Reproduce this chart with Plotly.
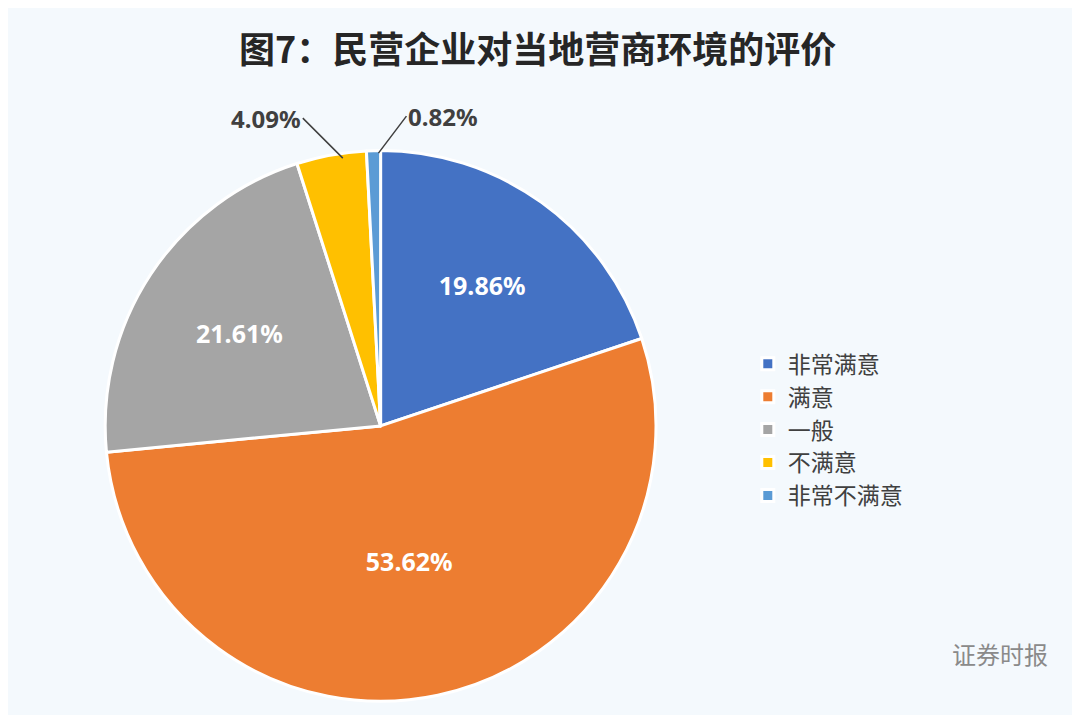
import plotly.graph_objects as go

labels = ["非常满意", "满意", "一般", "不满意", "非常不满意"]
values = [19.86, 53.62, 21.61, 4.09, 0.82]
colors = ["#4472c4", "#ed7d31", "#a5a5a5", "#ffc000", "#5b9bd5"]
text_labels = [f"{v:.2f}%" for v in values]
inside_text = [f"<b>{t}</b>" if v > 10 else "" for t, v in zip(text_labels, values)]

fig = go.Figure(go.Pie(
    labels=labels, values=values, sort=False, direction="clockwise", rotation=0,
    marker=dict(colors=colors, line=dict(color="white", width=3)),
    text=inside_text, textinfo="text", textposition="inside", insidetextorientation="horizontal",
    textfont=dict(color="white", size=25, family="Noto Sans"),
    domain=dict(x=[0.09, 0.60], y=[0.028, 0.803]),
    hoverinfo="label+percent",
))

fig.add_annotation(x=0.31, y=0.79, xref="paper", yref="paper", text="<b>" + text_labels[3] + "</b>",
                   showarrow=True, ax=-40, ay=-40, arrowhead=0, arrowwidth=1.5,
                   arrowcolor="#404040", xanchor="right", yanchor="middle",
                   font=dict(size=24, color="#404040", family="Noto Sans"))
fig.add_annotation(x=0.343, y=0.797, xref="paper", yref="paper", text="<b>" + text_labels[4] + "</b>",
                   showarrow=True, ax=28, ay=-37, arrowhead=0, arrowwidth=1.5,
                   arrowcolor="#404040", xanchor="left", yanchor="middle",
                   font=dict(size=24, color="#404040", family="Noto Sans"))
fig.add_annotation(x=0.49, y=0.985, xref="paper", yref="paper", showarrow=False, yanchor="top",
                   text="<b>图7：民营企业对当地营商环境的评价</b>",
                   font=dict(size=36, color="#262626", family="Noto Sans CJK SC"))
fig.add_annotation(x=0.965, y=0.07, xref="paper", yref="paper", showarrow=False,
                   text="证券时报", xanchor="right",
                   font=dict(size=24, color="#8a8a8a", family="Noto Sans CJK SC"))

fig.update_layout(
    width=1080, height=715, margin=dict(l=0, r=0, t=0, b=0),
    paper_bgcolor="#f4f9fd", plot_bgcolor="#f4f9fd",
    legend=dict(x=0.685, y=0.41, xanchor="left", yanchor="middle",
                font=dict(size=23, color="#404040", family="Noto Sans CJK SC"),
                tracegroupgap=0, itemwidth=30, bgcolor="rgba(0,0,0,0)"),
)
fig.write_html("out.html")
